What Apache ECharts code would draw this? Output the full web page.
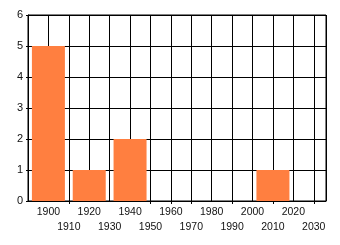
<!DOCTYPE html>
<html><head><meta charset="utf-8">
<script src="https://cdn.jsdelivr.net/npm/echarts@6/dist/echarts.min.js"></script>
<style>html,body{margin:0;padding:0;background:#fff}#c{width:340px;height:245px}</style>
</head><body><div id="c"></div>
<script>
const years = [1900, 1920, 1940, 2010];
const counts = [5, 1, 2, 1];
const yTicks = [0, 1, 2, 3, 4, 5, 6];
const xTickLabels = [1900, 1910, 1920, 1930, 1940, 1950, 1960, 1970, 1980, 1990, 2000, 2010, 2020, 2030];
const xTickMarks = [1910, 1950, 1960, 1970, 1990, 2010, 2030];

const chart = echarts.init(document.getElementById('c'), null, {renderer: 'canvas'});
const font = 'Liberation Sans';
chart.setOption({
  animation: false,
  grid: {left: 28, right: 14, top: 15, bottom: 44, show: true, borderColor: '#000', borderWidth: 1},
  xAxis: [{
    type: 'value', min: 1890, max: 2036, interval: 10,
    axisLine: {show: true, lineStyle: {color: '#000', width: 1}},
    axisTick: {show: false},
    splitLine: {show: true, lineStyle: {color: '#000', width: 1}},
    axisLabel: {
      margin: 4, fontFamily: font, fontSize: 10.5, color: '#111', lineHeight: 15,
      showMinLabel: true, showMaxLabel: true,
      formatter: function (v) {
        if (xTickLabels.indexOf(v) < 0) return '';
        return ((v / 10) % 2 === 1) ? '\n' + v : String(v);
      }
    }
  }, {
    type: 'value', min: 1890, max: 2036, position: 'bottom', offset: 0,
    axisLine: {show: false},
    axisTick: {show: true, length: 3, lineStyle: {color: '#000'}, customValues: xTickMarks},
    splitLine: {show: false},
    axisLabel: {show: false}
  }],
  yAxis: {
    type: 'value', min: yTicks[0], max: yTicks[yTicks.length - 1], interval: 1,
    axisLine: {show: true, lineStyle: {color: '#000', width: 1}},
    axisTick: {show: true, length: 2, lineStyle: {color: '#000'}},
    splitLine: {show: true, lineStyle: {color: '#000', width: 1}},
    axisLabel: {margin: 5, fontFamily: font, fontSize: 11, color: '#111'}
  },
  series: [{
    type: 'bar', barWidth: 33, xAxisIndex: 0,
    itemStyle: {color: '#FF7F40'},
    data: years.map((y, i) => [y, counts[i]])
  }]
});
</script></body></html>
